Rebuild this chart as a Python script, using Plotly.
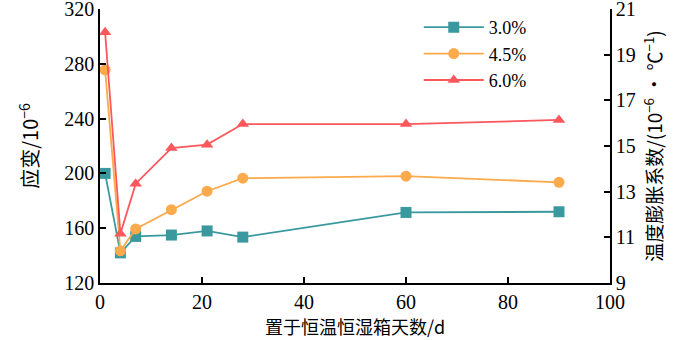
import plotly.graph_objects as go

days = [1, 4, 7, 14, 21, 28, 60, 90]
s30 = [200, 142, 154, 155, 158, 153.5, 171.5, 172]
s45 = [275.5, 143.5, 159.5, 173.5, 187, 196.5, 198, 193.5]
s60 = [303, 156, 192.5, 218.5, 221, 236, 236, 239]
names = ["3.0%", "4.5%", "6.0%"]
colors = ["#3a999f", "#fcaa4c", "#fc575c"]
symbols = ["square", "circle", "triangle-up"]

serif = "'Liberation Serif', 'Times New Roman', Times, serif"
cjk = "Noto Sans CJK SC"

fig = go.Figure()
for vals, n, c, s in zip([s30, s45, s60], names, colors, symbols):
    fig.add_trace(go.Scatter(x=days, y=vals, name=n, mode="lines+markers",
                             line=dict(color=c, width=1.8),
                             marker=dict(symbol=s, size=11, color=c)))
# dummy trace to make the secondary axis appear
fig.add_trace(go.Scatter(x=[None], y=[None], yaxis="y2", showlegend=False,
                         hoverinfo="skip"))

axis_common = dict(showline=True, linecolor="black", linewidth=1.5,
                   ticks="inside", ticklen=6, tickwidth=1.5, tickcolor="black",
                   showgrid=False, zeroline=False, ticklabeloverflow="allow",
                   tickfont=dict(family=serif, size=20, color="black"))

fig.update_layout(
    width=700, height=340,
    margin=dict(l=100, r=90, t=9, b=57, autoexpand=False),
    plot_bgcolor="white", paper_bgcolor="white",
    xaxis=dict(range=[0, 100], tickvals=[0, 20, 40, 60, 80, 100],
               title=dict(text="置于恒温恒湿箱天数/d", standoff=6,
                          font=dict(family=cjk, size=18, color="black")),
               **axis_common),
    yaxis=dict(range=[120, 320], tickvals=[120, 160, 200, 240, 280, 320],
               title=dict(text="应变/10<sup>−6</sup>", standoff=20,
                          font=dict(family=cjk, size=20, color="black")),
               **axis_common),
    yaxis2=dict(range=[9, 21], tickvals=[9, 11, 13, 15, 17, 19, 21],
                overlaying="y", side="right",
                title=dict(text="温度膨胀系数/(10<sup>−6</sup> • ℃<sup>−1</sup>)", standoff=14,
                           font=dict(family=cjk, size=19, color="black")),
                **axis_common),
    legend=dict(x=0.625, y=1.0, xanchor="left", yanchor="top",
                bgcolor="rgba(0,0,0,0)", itemwidth=60,
                font=dict(family=serif, size=18, color="black"),
                tracegroupgap=0),
    showlegend=True,
)

fig.write_html("out.html")
